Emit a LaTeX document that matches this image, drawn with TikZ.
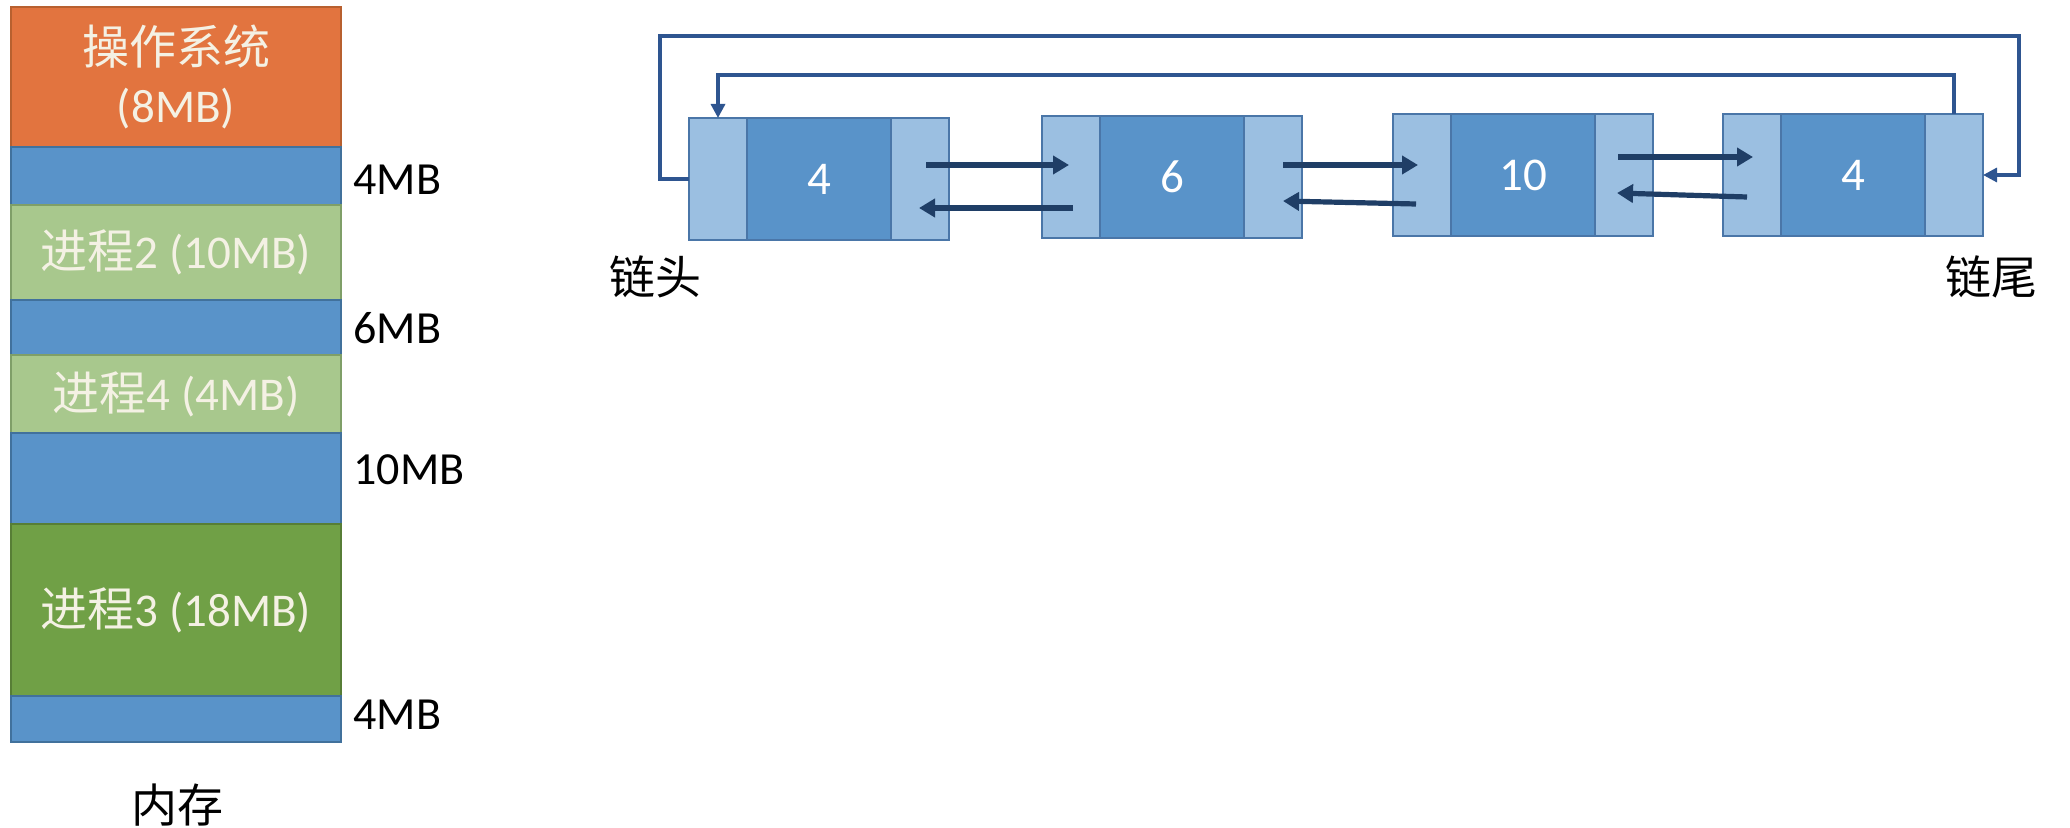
\documentclass[tikz,border=0pt]{standalone}
\usepackage{fontspec}
\setmainfont{Carlito}
\newfontfamily\cjk{Noto Sans CJK SC}
\usetikzlibrary{arrows.meta,calc}
\definecolor{osc}{HTML}{E2743F}
\definecolor{oscb}{HTML}{B8602F}
\definecolor{mblue}{HTML}{5993C9}
\definecolor{mblueb}{HTML}{41719C}
\definecolor{lgreen}{HTML}{A8C88D}
\definecolor{lgreenb}{HTML}{7F9F68}
\definecolor{dgreen}{HTML}{70A046}
\definecolor{dgreenb}{HTML}{577E36}
\definecolor{memtext}{HTML}{F4F1E4}
\definecolor{nlight}{HTML}{9BBFE1}
\definecolor{nmid}{HTML}{5993C9}
\definecolor{nodeb}{HTML}{4A76A8}
\definecolor{linkc}{HTML}{1F3E66}
\definecolor{loopc}{HTML}{2E5590}
\begin{document}
\begin{tikzpicture}[x=0.5pt,y=-0.5pt,
  memblk/.style={minimum width=165pt, inner sep=0pt, outer sep=0pt, line width=0.6pt,
    font=\fontsize{23.5}{29}\selectfont, text=memtext, align=center},
  osblk/.style={memblk, fill=osc, draw=oscb},
  blueblk/.style={memblk, fill=mblue, draw=mblueb},
  lgblk/.style={memblk, fill=lgreen, draw=lgreenb},
  dgblk/.style={memblk, fill=dgreen, draw=dgreenb},
  sizelbl/.style={anchor=west, inner sep=0pt, font=\fontsize{23}{28}\selectfont},
  cjklbl/.style={inner sep=0pt, font=\fontsize{23}{28}\selectfont\cjk},
  part/.style={draw=nodeb, line width=0.7pt, minimum height=61pt, inner sep=0pt, outer sep=0pt},
  side/.style={part, fill=nlight, minimum width=29pt},
  midp/.style={part, fill=nmid, minimum width=72pt, text=white, font=\fontsize{23.5}{27}\selectfont},
  link/.style={draw=linkc, line width=2.6pt, -{Triangle[length=8pt,width=9pt]}},
  loopline/.style={draw=loopc, line width=1.6pt, -{Triangle[length=7pt,width=7pt]}}
]
\useasboundingbox (0,0) rectangle (2070,828);

% memory column
\node[osblk, minimum height=70pt] (os) at (176,77) {{\cjk 操作系统}\\(8MB)};
\node[blueblk, minimum height=29pt] (f1) at (176,176) {};
\node[lgblk, minimum height=47.5pt] (p2) at (176,252.5) {{\cjk 进程}2 (10MB)};
\node[blueblk, minimum height=27.5pt] (f2) at (176,327.5) {};
\node[lgblk, minimum height=39pt] (p4) at (176,394) {{\cjk 进程}4 (4MB)};
\node[blueblk, minimum height=45.5pt] (f3) at (176,478.5) {};
\node[dgblk, minimum height=86pt] (p3) at (176,610) {{\cjk 进程}3 (18MB)};
\node[blueblk, minimum height=23pt] (f4) at (176,719) {};

\node[sizelbl] (l1) at (353,180) {4MB};
\node[sizelbl] (l2) at (353,328) {6MB};
\node[sizelbl] (l3) at (353,470) {10MB};
\node[sizelbl] (l4) at (353,715) {4MB};
\node[cjklbl] (mem) at (177,805) {内存};

% linked list nodes
\node[side] (n1l) at (718,179) {};
\node[midp] (n1m) at (819,179) {4};
\node[side] (n1r) at (920,179) {};

\node[side] (n2l) at (1071,177) {};
\node[midp] (n2m) at (1172,177) {6};
\node[side] (n2r) at (1273,177) {};

\node[side] (n3l) at (1422,175) {};
\node[midp] (n3m) at (1523,175) {10};
\node[side] (n3r) at (1624,175) {};

\node[side] (n4l) at (1752,175) {};
\node[midp] (n4m) at (1853,175) {4};
\node[side] (n4r) at (1954,175) {};

\node[cjklbl] (head) at (655,277) {链头};
\node[cjklbl] (tail) at (1991,277) {链尾};

% links between nodes
\draw[link] ($(n1r.center)+(6,-14)$) -- ($(n2l.center)+(-2,-12)$);
\draw[link] ($(n2l.center)+(2,31)$) -- ($(n1r.center)+(-1,29)$);
\draw[link] ($(n2r.center)+(10,-12)$) -- ($(n3l.center)+(-4,-10)$);
\draw[link] ($(n3l.center)+(-6,29)$) -- ($(n2r.center)+(10,24)$);
\draw[link] ($(n3r.center)+(-6,-18)$) -- ($(n4l.center)+(1,-18)$);
\draw[link] ($(n4l.center)+(-5,22)$) -- ($(n3r.center)+(-7,18)$);

% circular loops
\coordinate (oL) at (660,36);
\coordinate (oR) at (2019,36);
\coordinate (iy) at (718,75);
\draw[loopline] (n1l.west) -| (oL) -- (oR) |- (n4r.east);
\draw[loopline] (n4r.north) |- (iy) -- (n1l.north);
\end{tikzpicture}
\end{document}
